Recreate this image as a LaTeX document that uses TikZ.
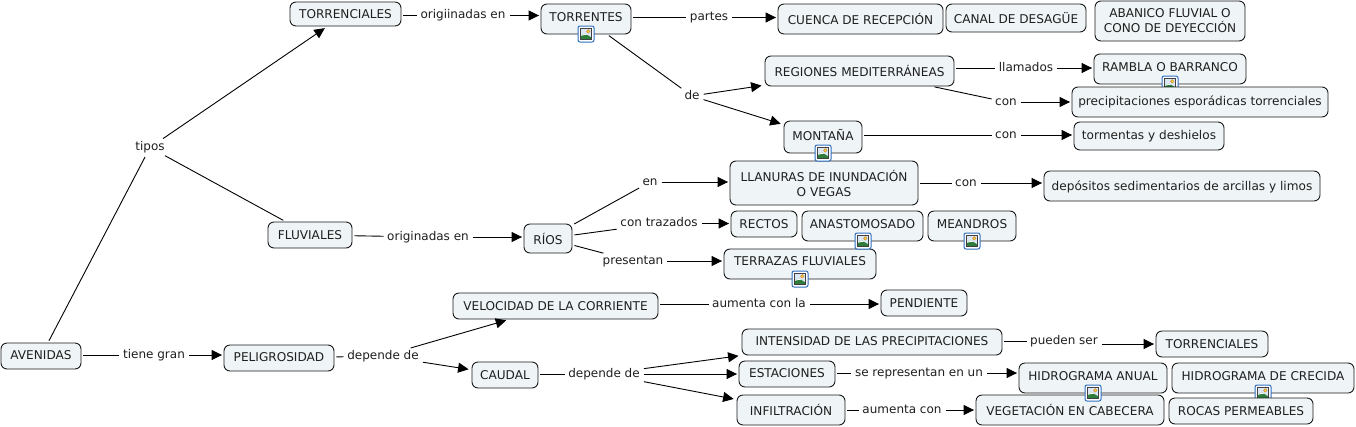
\documentclass[tikz,border=0pt]{standalone}
\usepackage{fontspec}
\setmainfont{DejaVu Sans}
\usetikzlibrary{arrows.meta}
\definecolor{boxfill}{HTML}{EFF5F7}
\definecolor{boxline}{HTML}{1A1A1A}
\definecolor{icoblue}{HTML}{2F6FC0}
\definecolor{icosky}{HTML}{DCE8F5}
\definecolor{icogreen}{HTML}{2E7D3A}
\definecolor{icosun}{HTML}{F2D64B}
\tikzset{
  conceptbox/.style={draw=boxline,fill=boxfill,rounded corners=6pt,line width=0.9pt,inner sep=0pt,align=center,font=\fontsize{12.1}{15}\selectfont,text=black!88},
  linklabel/.style={inner sep=1pt,text height=9pt,text depth=3pt,font=\fontsize{12}{14}\selectfont,text=black!88},
  plainlink/.style={draw=black,line width=0.9pt,shorten <=2pt,shorten >=2.5pt},
  arrowlink/.style={draw=black,line width=0.9pt,shorten <=3pt,shorten >=1.5pt,-{Triangle[length=10.5pt,width=10pt]}},
  slantarrow/.style={arrowlink,shorten >=3pt},
  imgicon/.pic={
    \draw[icoblue,fill=white,line width=1pt,rounded corners=2pt] (-8,-8) rectangle (8,8);
    \fill[icosky] (-5.5,-5.5) rectangle (5.5,5.5);
    \fill[icogreen] (-5.5,5.5) -- (-5.5,2) -- (-1.5,-0.8) -- (5.5,3.5) -- (5.5,5.5) -- cycle;
    \fill[white] (-5.5,2) -- (-1.5,-0.8) -- (1.5,1) -- (-1.5,0.8) -- cycle;
    \fill[icosun,draw=orange!80!black,line width=0.3pt] (2.3,-2.6) circle (1.8pt);
    \draw[black!75,line width=0.6pt] (-5.5,-5.5) rectangle (5.5,5.5);
  }
}
% name, x1, y1, x2, y2, offset of the baseline below the centre, text
\newcommand{\cbox}[7]{%
  \pgfmathsetmacro{\cx}{(#2+#4)/2}\pgfmathsetmacro{\cy}{(#3+#5)/2}%
  \pgfmathsetmacro{\cw}{#4-#2}\pgfmathsetmacro{\ch}{#5-#3}\pgfmathsetmacro{\co}{2*#6}%
  \node[conceptbox,minimum width=\cw pt,minimum height=\ch pt,text height=\co pt,text depth=0pt] (#1) at (\cx,\cy) {#7};}
% name, x1, y1, x2, y2, text (two lines)
\newcommand{\tbox}[6]{%
  \pgfmathsetmacro{\cx}{(#2+#4)/2}\pgfmathsetmacro{\cy}{(#3+#5)/2}%
  \pgfmathsetmacro{\cw}{#4-#2}\pgfmathsetmacro{\ch}{#5-#3}%
  \node[conceptbox,minimum width=\cw pt,minimum height=\ch pt] (#1) at (\cx,\cy) {#6};}
\begin{document}
\begin{tikzpicture}[x=1pt,y=-1pt]
\useasboundingbox (0,0) rectangle (1356,426);
\fill[white] (0,0) rectangle (1356,426);
% labels
\node[linklabel] (tipos) at (150,147.5) {tipos};
\node[linklabel] (l1) at (463,15.5) {origiinadas en};
\node[linklabel] (l2) at (709,17.5) {partes};
\node[linklabel] (de) at (692,96) {de};
\node[linklabel] (l3) at (1026,68) {llamados};
\node[linklabel] (l4) at (1006,102) {con};
\node[linklabel] (l5) at (1006,135) {con};
\node[linklabel] (l6) at (650,182) {en};
\node[linklabel] (l7) at (966,183) {con};
\node[linklabel] (l8) at (428,237) {originadas en};
\node[linklabel] (l9) at (659,223.5) {con trazados};
\node[linklabel] (l10) at (633,261) {presentan};
\node[linklabel] (l11) at (154,355) {tiene gran};
\node[linklabel] (l12) at (383,356) {depende de};
\node[linklabel] (l13) at (759,304) {aumenta con la};
\node[linklabel] (l14) at (1064,341) {pueden ser};
\node[linklabel] (l15) at (604,374) {depende de};
\node[linklabel] (l16) at (919,373) {se representan en un};
\node[linklabel] (l17) at (902,410) {aumenta con};
% boxes
\cbox{torr}{290}{2}{401}{26}{4.5}{TORRENCIALES}
\cbox{torrentes}{541}{4}{631}{34}{2}{TORRENTES}
\cbox{cuenca}{778}{4}{943}{34}{5.5}{CUENCA DE RECEPCIÓN}
\cbox{canal}{946}{4}{1086}{32}{5.5}{CANAL DE DESAGÜE}
\tbox{abanico}{1095}{1}{1245}{41}{ABANICO FLUVIAL O\\CONO DE DEYECCIÓN}
\cbox{regiones}{765}{56}{954}{86}{5.5}{REGIONES MEDITERRÁNEAS}
\cbox{rambla}{1094}{54}{1246}{84}{2.5}{RAMBLA O BARRANCO}
\pic at (1170,84) {imgicon};
\cbox{precip}{1072}{87}{1328}{117}{3}{precipitaciones esporádicas torrenciales}
\cbox{montana}{784}{121}{862}{153}{3.5}{MONTAÑA}
\cbox{tormentas}{1074}{122}{1224}{150}{3}{tormentas y deshielos}
\tbox{llanuras}{730}{161}{918}{205}{LLANURAS DE INUNDACIÓN\\O VEGAS}
\cbox{depositos}{1044}{171}{1320}{201}{4}{depósitos sedimentarios de arcillas y limos}
\cbox{fluv}{268}{222}{352}{248}{4}{FLUVIALES}
\cbox{rios}{524}{224}{572}{253}{5.5}{RÍOS}
\cbox{rectos}{731}{211}{797}{237}{4.5}{RECTOS}
\cbox{anast}{802}{211}{923}{241}{2.3}{ANASTOMOSADO}
\cbox{meandros}{928}{211}{1016}{241}{2.3}{MEANDROS}
\cbox{terrazas}{724}{249}{876}{279}{1.7}{TERRAZAS FLUVIALES}
\cbox{veloc}{453}{293}{658}{319}{4}{VELOCIDAD DE LA CORRIENTE}
\cbox{pend}{881}{290}{967}{316}{4.5}{PENDIENTE}
\cbox{intens}{742}{329}{1002}{355}{3.5}{INTENSIDAD DE LAS PRECIPITACIONES}
\cbox{torrb}{1156}{331}{1268}{357}{4.5}{TORRENCIALES}
\cbox{estac}{739}{361}{835}{387}{3.5}{ESTACIONES}
\cbox{hanual}{1019}{363}{1167}{393}{2}{HIDROGRAMA ANUAL}
\cbox{hcrec}{1172}{363}{1354}{393}{2}{HIDROGRAMA DE CRECIDA}
\cbox{infil}{737}{395}{845}{425}{5.5}{INFILTRACIÓN}
\cbox{veget}{976}{395}{1164}{425}{5.5}{VEGETACIÓN EN CABECERA}
\pic at (586,34) {imgicon};
\pic at (823,153) {imgicon};
\pic at (863,241) {imgicon};
\pic at (972,241) {imgicon};
\pic at (800,279) {imgicon};
\pic at (1093,393) {imgicon};
\pic at (1263,393) {imgicon};
\cbox{rocas}{1169}{398}{1313}{424}{4}{ROCAS PERMEABLES}
\cbox{aven}{1}{343}{81}{369}{3.5}{AVENIDAS}
\cbox{pelig}{224}{345}{334}{371}{3.7}{PELIGROSIDAD}
\cbox{caudal}{472}{362}{538}{388}{4.5}{CAUDAL}
% connectors
\draw[plainlink] (aven) -- (tipos);
\draw[slantarrow] (tipos) -- (torr);
\draw[plainlink] (tipos) -- (fluv);
\draw[plainlink] (torr.east |- l1) -- (l1);
\draw[arrowlink] (l1) -- (l1 -| torrentes.west);
\draw[plainlink] (torrentes.east |- l2) -- (l2);
\draw[arrowlink] (l2) -- (l2 -| cuenca.west);
\draw[plainlink] (torrentes) -- (de);
\draw[slantarrow] (de) -- (regiones);
\draw[slantarrow] (de) -- (montana);
\draw[plainlink] (regiones.east |- l3) -- (l3);
\draw[arrowlink] (l3) -- (l3 -| rambla.west);
\draw[plainlink] (regiones) -- (l4);
\draw[arrowlink] (l4) -- (l4 -| precip.west);
\draw[plainlink] (montana.east |- l5) -- (l5);
\draw[arrowlink] (l5) -- (l5 -| tormentas.west);
\draw[plainlink] (fluv) -- (l8);
\draw[arrowlink] (l8) -- (l8 -| rios.west);
\draw[plainlink] (rios) -- (l6);
\draw[arrowlink] (l6) -- (l6 -| llanuras.west);
\draw[plainlink] (llanuras.east |- l7) -- (l7);
\draw[arrowlink] (l7) -- (l7 -| depositos.west);
\draw[plainlink] (rios) -- (l9);
\draw[arrowlink] (l9) -- (l9 -| rectos.west);
\draw[plainlink] (rios) -- (l10);
\draw[arrowlink] (l10) -- (l10 -| terrazas.west);
\draw[plainlink] (aven.east |- l11) -- (l11);
\draw[arrowlink] (l11) -- (l11 -| pelig.west);
\draw[plainlink] (pelig) -- (l12);
\draw[slantarrow] (l12) -- (veloc);
\draw[slantarrow] (l12) -- (caudal);
\draw[plainlink] (veloc.east |- l13) -- (l13);
\draw[arrowlink] (l13) -- (l13 -| pend.west);
\draw[plainlink] (caudal.east |- l15) -- (l15);
\draw[slantarrow] (l15) -- (intens.south west);
\draw[arrowlink] (l15) -- (estac);
\draw[slantarrow] (l15) -- (infil);
\draw[plainlink] (intens.east |- l14) -- (l14);
\draw[arrowlink] (l14.east |- torrb.west) -- (torrb.west);
\draw[plainlink] (estac.east |- l16) -- (l16);
\draw[arrowlink] (l16) -- (l16 -| hanual.west);
\draw[plainlink] (infil.east |- l17) -- (l17);
\draw[arrowlink] (l17) -- (l17 -| veget.west);
\end{tikzpicture}
\end{document}
